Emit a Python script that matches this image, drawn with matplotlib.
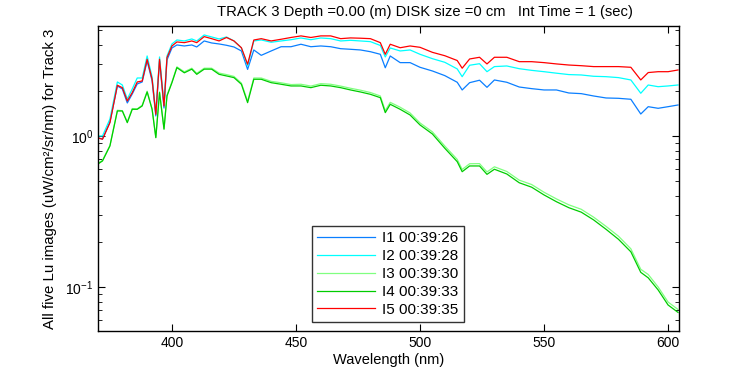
import matplotlib
matplotlib.use("Agg")
import matplotlib.pyplot as plt

# wavelength grid (nm) and the five Lu spectra (uW/cm^2/sr/nm)
wavelength = [370, 372, 375, 378, 380, 382, 384, 386, 388, 390, 392, 393.5, 395, 396.8, 398,
              400, 402, 405, 408, 410, 413, 416, 419, 422, 425, 428, 430.5, 433, 436, 440,
              444, 448, 452, 456, 460, 464, 468, 472, 476, 480, 484, 486, 488, 492, 496,
              500, 505, 510, 515, 517, 520, 524, 527, 530, 535, 540, 545, 550, 555, 560,
              565, 570, 575, 580, 585, 589, 592, 596, 600, 604]

lu_i1 = [0.970, 0.955, 1.238, 2.144, 2.048, 1.654, 1.897, 2.210, 2.278, 3.139, 2.313, 1.357, 3.139, 1.532, 3.187,
         3.826, 4.006, 3.945, 4.006, 3.885, 4.258, 4.13, 4.068, 3.986, 3.885, 3.656, 2.76, 3.712, 3.42, 3.656,
         3.90, 3.90, 4.05, 3.90, 3.945, 3.90, 3.785, 3.75, 3.712, 3.615, 3.475, 2.83, 3.387, 3.06, 3.06,
         2.85, 2.694, 2.51, 2.268, 2.017, 2.254, 2.34, 2.10, 2.349, 2.268, 2.11, 2.058, 2.017, 2.017, 1.926,
         1.907, 1.84, 1.785, 1.776, 1.75, 1.398, 1.563, 1.525, 1.563, 1.604]

lu_i2 = [1.000, 1.000, 1.296, 2.278, 2.176, 1.758, 2.048, 2.421, 2.421, 3.387, 2.459, 1.420, 3.336, 1.629, 3.387,
         4.068, 4.323, 4.258, 4.39, 4.258, 4.666, 4.526, 4.39, 4.526, 4.258, 3.826, 2.908, 4.258, 4.323, 4.175,
         4.258, 4.34, 4.457, 4.34, 4.457, 4.41, 4.258, 4.30, 4.258, 4.215, 3.975, 3.336, 3.826, 3.656, 3.712,
         3.475, 3.25, 3.075, 2.78, 2.47, 2.94, 3.01, 2.665, 2.88, 2.908, 2.79, 2.72, 2.665, 2.605, 2.55,
         2.535, 2.485, 2.47, 2.435, 2.349, 1.918, 2.176, 2.12, 2.144, 2.176]

lu_i3 = [0.655, 0.69, 0.865, 1.48, 1.47, 1.24, 1.52, 1.51, 1.60, 1.98, 1.51, 0.98, 1.96, 1.12, 1.86,
         2.28, 2.87, 2.66, 2.81, 2.60, 2.81, 2.81, 2.61, 2.55, 2.48, 2.24, 1.70, 2.42, 2.42, 2.30,
         2.25, 2.19, 2.20, 2.14, 2.22, 2.20, 2.14, 2.07, 2.01, 1.94, 1.84, 1.47, 1.67, 1.55, 1.42,
         1.22, 1.065, 0.858, 0.70, 0.60, 0.655, 0.656, 0.578, 0.625, 0.582, 0.51, 0.477, 0.424, 0.383, 0.35,
         0.327, 0.29, 0.252, 0.217, 0.179, 0.131, 0.121, 0.1, 0.0795, 0.071]

lu_i4 = [0.650, 0.683, 0.859, 1.464, 1.464, 1.225, 1.502, 1.502, 1.580, 1.956, 1.502, 0.974, 1.937, 1.108, 1.840,
         2.254, 2.835, 2.62, 2.77, 2.56, 2.77, 2.77, 2.56, 2.497, 2.435, 2.20, 1.662, 2.374, 2.374, 2.254,
         2.20, 2.144, 2.144, 2.089, 2.167, 2.144, 2.089, 2.017, 1.956, 1.888, 1.793, 1.427, 1.621, 1.502, 1.377,
         1.183, 1.031, 0.829, 0.676, 0.580, 0.633, 0.633, 0.557, 0.602, 0.560, 0.490, 0.458, 0.407, 0.367, 0.335,
         0.313, 0.278, 0.241, 0.207, 0.171, 0.125, 0.115, 0.0956, 0.0760, 0.0679]

lu_i5 = [0.974, 0.951, 1.225, 2.167, 2.089, 1.705, 1.937, 2.278, 2.313, 3.22, 2.374, 1.392, 3.22, 1.58, 3.30,
         3.945, 4.194, 4.15, 4.258, 4.15, 4.55, 4.41, 4.26, 4.49, 4.26, 3.84, 2.985, 4.32, 4.41, 4.26,
         4.37, 4.49, 4.60, 4.49, 4.60, 4.60, 4.41, 4.46, 4.44, 4.41, 4.15, 3.475, 4.05, 3.84, 3.945,
         3.865, 3.58, 3.40, 3.16, 2.81, 3.235, 3.32, 3.00, 3.32, 3.32, 3.105, 3.105, 3.06, 3.00, 2.95,
         2.92, 2.88, 2.88, 2.88, 2.85, 2.35, 2.63, 2.665, 2.665, 2.735]

labels = ["I1 00:39:26", "I2 00:39:28", "I3 00:39:30", "I4 00:39:33", "I5 00:39:35"]
colors = ["#0a7fff", "#00ffff", "#80ff80", "#00cc00", "#ff0000"]

plt.rcParams.update({"font.family": ["Liberation Sans", "DejaVu Sans"], "font.size": 10,
                     "mathtext.default": "regular"})

fig = plt.figure(figsize=(7.5, 3.75), dpi=100)
ax = fig.add_axes([0.1307, 0.1173, 0.7746, 0.8134])

for ys, lab, c in zip([lu_i1, lu_i2, lu_i3, lu_i4, lu_i5], labels, colors):
    ax.plot(wavelength, ys, color=c, lw=0.9, label=lab)

ax.set_yscale("log")
ax.set_xlim(370.2, 604.4)
ax.set_ylim(0.0511, 5.35)
ax.set_xticks([400, 450, 500, 550, 600])
ax.tick_params(which="both", direction="in", top=True, right=True, labelsize=10, color="black")
ax.tick_params(which="major", length=5)
ax.tick_params(which="minor", length=3)
for s in ax.spines.values():
    s.set_linewidth(1.0)

ax.set_xlabel("Wavelength (nm)", fontsize=10.5, labelpad=2)
ax.set_ylabel("All five Lu images (uW/cm²/sr/nm) for Track 3", fontsize=10.8, labelpad=6)
fig.text(0.566, 0.968, "TRACK 3 Depth =0.00 (m) DISK size =0 cm   Int Time = 1 (sec)",
         ha="center", va="center", fontsize=10.6)

leg = ax.legend(loc="lower left", bbox_to_anchor=(0.368, 0.0295), borderaxespad=0,
                fontsize=11, frameon=True, fancybox=False, edgecolor="black",
                labelspacing=0.25, handlelength=3.8, handletextpad=0.45, borderpad=0.35)
leg.get_frame().set_linewidth(1.0)

fig.savefig("out.png", dpi=100)
